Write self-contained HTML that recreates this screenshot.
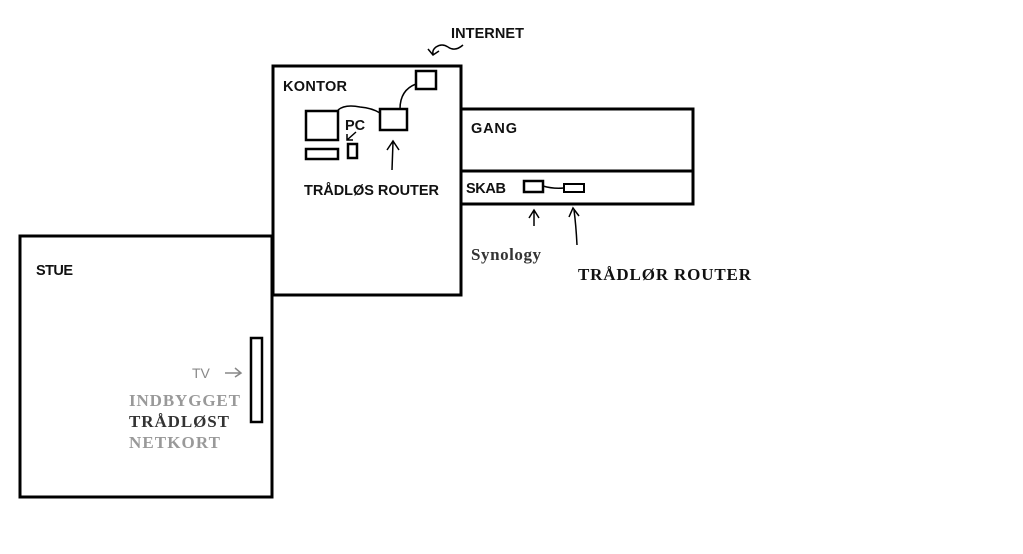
<!DOCTYPE html>
<html><head><style>
body{margin:0;width:1023px;height:549px;background:#fff;overflow:hidden}
</style></head><body>
<svg width="1023" height="549" xmlns="http://www.w3.org/2000/svg">
<g fill="none" stroke="#000" stroke-width="3">
<rect x="273" y="66" width="188" height="229"/>
<rect x="461" y="109" width="232" height="62"/>
<rect x="461" y="171" width="232" height="33"/>
<rect x="20" y="236" width="252" height="261"/>
<rect x="416" y="71" width="20" height="18" stroke-width="2.5"/>
<rect x="380" y="109" width="27" height="21" stroke-width="2.5"/>
<rect x="306" y="111" width="32" height="29" stroke-width="2.5"/>
<rect x="306" y="149" width="32" height="10" stroke-width="2.5"/>
<rect x="348" y="144" width="9" height="14" stroke-width="2.5"/>
<rect x="524" y="181" width="19" height="11" stroke-width="2.5"/>
<rect x="564" y="184" width="20" height="8" stroke-width="2"/>
<rect x="251" y="338" width="11" height="84" stroke-width="2.5"/>
</g>
<g fill="none" stroke="#000" stroke-width="1.5">
<path d="M338 110 Q345 104 360 107 Q372 108 380 113"/>
<path d="M400 109 Q400 90 416 84"/>
<path d="M543 186 Q553 189 564 188"/>
<path d="M392 170 L393 142 M387 150 L393 141 L399 150"/>
<path d="M534 226 V211 M529 218 L534 210 L539 218" />
<path d="M577 245 Q576 225 574 210 M569 217 L573 208 L579 216" />
<path d="M448 47 Q442 43 436 47 Q432 50 433 54 M428 49 L433 55 L439 51"/>
<path d="M448 47 Q455 52 463 45"/>
<path d="M356 132 L347 140 M347 134 L347 140 L353 140"/>
</g>
<path d="M225 373 H240 M235 368 L241 373 L235 377" stroke="#888" stroke-width="1.5" fill="none"/>
<g font-family="Liberation Sans, sans-serif" font-weight="bold" font-size="14.5" fill="#111">
<text x="451" y="38" textLength="73">INTERNET</text>
<text x="283" y="91" textLength="64">KONTOR</text>
<text x="345" y="130">PC</text>
<text x="471" y="133" textLength="46">GANG</text>
<text x="304" y="195" textLength="135">TRÅDLØS ROUTER</text>
<text x="466" y="193" textLength="40">SKAB</text>
<text x="36" y="275" textLength="37">STUE</text>
<text x="192" y="378" fill="#888" font-weight="normal" font-size="14">TV</text>
</g>
<g font-family="Liberation Serif, serif" font-weight="bold" font-size="17">
<text x="471" y="260" fill="#333" textLength="70">Synology</text>
<text x="578" y="280" fill="#111" textLength="173">TRÅDLØR ROUTER</text>
<text x="129" y="406" fill="#999" textLength="111">INDBYGGET</text>
<text x="129" y="427" fill="#333" textLength="100">TRÅDLØST</text>
<text x="129" y="448" fill="#999" textLength="91">NETKORT</text>
</g>
</svg>
</body></html>
